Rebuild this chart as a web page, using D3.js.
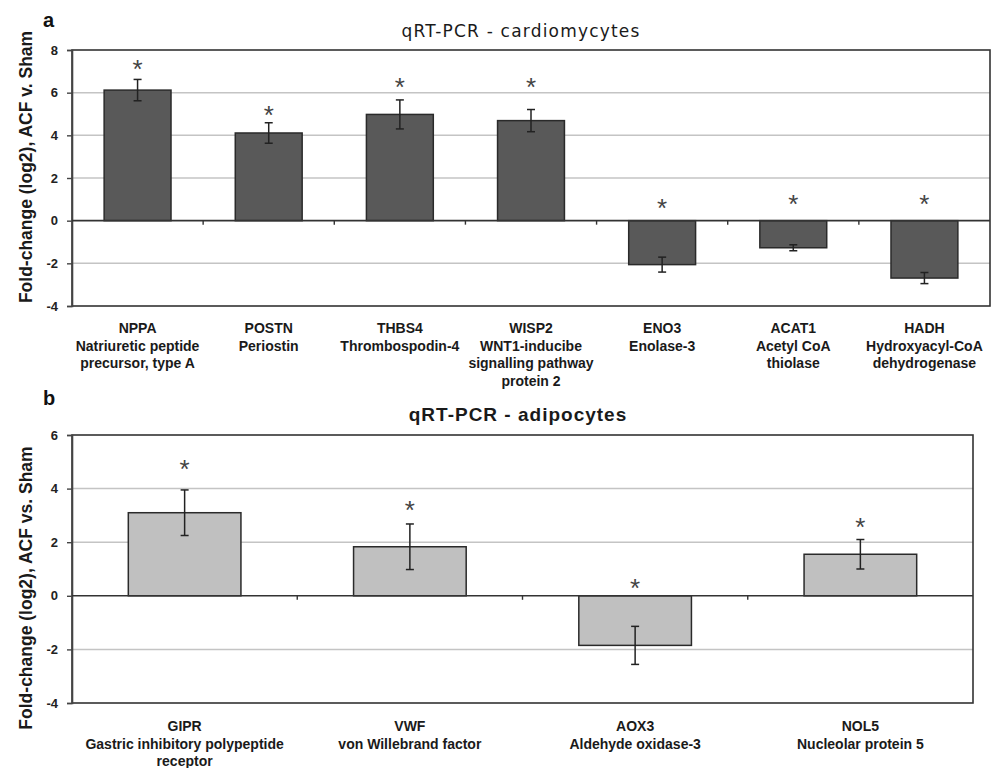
<!DOCTYPE html>
<html>
<head>
<meta charset="utf-8">
<script src="https://cdn.jsdelivr.net/npm/d3@7"></script>
<style>
  html, body { margin: 0; padding: 0; background: #fff; }
  svg { display: block; }
</style>
</head>
<body>
<div id="chart"></div>
<script>
// ---------- Panel a: cardiomycytes ----------
const catsA = ["NPPA", "POSTN", "THBS4", "WISP2", "ENO3", "ACAT1", "HADH"];
const labelsA = [
  ["NPPA", "Natriuretic peptide", "precursor, type A"],
  ["POSTN", "Periostin"],
  ["THBS4", "Thrombospodin-4"],
  ["WISP2", "WNT1-inducibe", "signalling pathway", "protein 2"],
  ["ENO3", "Enolase-3"],
  ["ACAT1", "Acetyl CoA", "thiolase"],
  ["HADH", "Hydroxyacyl-CoA", "dehydrogenase"]
];
const valuesA = [6.12, 4.11, 4.98, 4.69, -2.06, -1.27, -2.69];
const errorsA = [0.5, 0.48, 0.68, 0.52, 0.35, 0.14, 0.26];
const starsA = [7.4, 5.24, 6.55, 6.55, 0.89, 1.06, 1.06];
const ticksA = [-4, -2, 0, 2, 4, 6, 8];

// ---------- Panel b: adipocytes ----------
const catsB = ["GIPR", "VWF", "AOX3", "NOL5"];
const labelsB = [
  ["GIPR", "Gastric inhibitory  polypeptide", "receptor"],
  ["VWF", "von Willebrand factor"],
  ["AOX3", "Aldehyde oxidase-3"],
  ["NOL5", "Nucleolar protein 5"]
];
const valuesB = [3.1, 1.83, -1.85, 1.55];
const errorsB = [0.85, 0.85, 0.71, 0.55];
const starsB = [4.97, 3.43, 0.53, 2.8];
const ticksB = [-4, -2, 0, 2, 4, 6];

const W = 993, H = 768;
const svg = d3.select("#chart").append("svg").attr("width", W).attr("height", H);
const FONT = "'Liberation Sans', Arial, sans-serif";

function drawPanel(o) {
  const g = svg.append("g");
  const x = d3.scaleBand().domain(o.cats).range([o.left, o.right]).paddingInner(0).paddingOuter(0);
  const y = d3.scaleLinear().domain([o.ticks[0], o.ticks[o.ticks.length - 1]]).range([o.bottom, o.top]);

  // gridlines
  g.selectAll("line.grid").data(o.ticks.filter(t => t !== 0 && t !== o.ticks[0] && t !== o.ticks[o.ticks.length - 1]))
    .enter().append("line")
    .attr("x1", o.left).attr("x2", o.right)
    .attr("y1", d => y(d)).attr("y2", d => y(d))
    .attr("stroke", "#c4c4c4").attr("stroke-width", 1.5);

  // plot border
  g.append("rect").attr("x", o.left).attr("y", o.top)
    .attr("width", o.right - o.left).attr("height", o.bottom - o.top)
    .attr("fill", "none").attr("stroke", "#333").attr("stroke-width", 1.6);

  // y axis (line + ticks via d3.axisLeft, labels drawn separately)
  const yAxis = d3.axisLeft(y).tickValues(o.ticks).tickSize(5).tickFormat("");
  const ya = g.append("g").attr("transform", `translate(${o.left},0)`).call(yAxis);
  ya.select(".domain").attr("stroke", "#444").attr("stroke-width", 1.6);
  ya.selectAll(".tick line").attr("stroke", "#444").attr("stroke-width", 1.4);
  g.selectAll("text.ylab").data(o.ticks).enter().append("text")
    .attr("x", o.left - 14).attr("y", d => y(d)).attr("dy", "0.36em")
    .attr("text-anchor", "end").attr("font-family", FONT).attr("font-weight", "bold")
    .attr("font-size", 13).attr("fill", "#222").text(d => d3.format("d")(d).replace("\u2212", "-"));

  // bars
  const bw = x.bandwidth() * o.barFrac;
  g.selectAll("rect.bar").data(o.values).enter().append("rect")
    .attr("x", (d, i) => x(o.cats[i]) + (x.bandwidth() - bw) / 2)
    .attr("y", d => y(Math.max(0, d)))
    .attr("width", bw)
    .attr("height", d => Math.abs(y(d) - y(0)))
    .attr("fill", o.fill).attr("stroke", "#2a2a2a").attr("stroke-width", 1.5);

  // zero line
  g.append("line").attr("x1", o.left).attr("x2", o.right)
    .attr("y1", y(0)).attr("y2", y(0)).attr("stroke", "#333").attr("stroke-width", 1.6);
  g.selectAll("line.ctick").data(o.cats.slice(1)).enter().append("line")
    .attr("x1", d => x(d)).attr("x2", d => x(d))
    .attr("y1", y(0)).attr("y2", y(0) + 4)
    .attr("stroke", "#333").attr("stroke-width", 1.4);

  // error bars + asterisks
  const cap = 4;
  o.values.forEach((v, i) => {
    const cx = x(o.cats[i]) + x.bandwidth() / 2;
    const e = o.errors[i];
    const eg = g.append("g").attr("stroke", "#222").attr("stroke-width", 1.5);
    eg.append("line").attr("x1", cx).attr("x2", cx).attr("y1", y(v + e)).attr("y2", y(v - e));
    eg.append("line").attr("x1", cx - cap).attr("x2", cx + cap).attr("y1", y(v + e)).attr("y2", y(v + e));
    eg.append("line").attr("x1", cx - cap).attr("x2", cx + cap).attr("y1", y(v - e)).attr("y2", y(v - e));
    g.append("text").attr("x", cx).attr("y", y(o.stars[i]) + 15)
      .attr("text-anchor", "middle").attr("font-family", FONT)
      .attr("font-size", 26).attr("fill", "#444").text("*");
  });

  // category labels
  o.labels.forEach((lines, i) => {
    const cx = x(o.cats[i]) + x.bandwidth() / 2;
    const t = g.append("text").attr("text-anchor", "middle")
      .attr("font-family", FONT).attr("font-weight", "bold")
      .attr("font-size", 14).attr("fill", "#1a1a1a");
    lines.forEach((ln, j) => {
      t.append("tspan").attr("x", cx).attr("y", o.labelY + j * o.lineH).text(ln);
    });
  });

  // title
  g.append("text").attr("x", o.titleX).attr("y", o.titleY)
    .attr("text-anchor", "middle").attr("font-family", o.titleFont)
    .attr("font-weight", o.titleWeight).attr("font-size", o.titleSize)
    .attr("letter-spacing", o.titleSpacing).attr("fill", "#1a1a1a")
    .text(o.title);

  // panel letter
  g.append("text").attr("x", 43).attr("y", o.letterY)
    .attr("font-family", FONT).attr("font-weight", "bold")
    .attr("font-size", 20).attr("fill", "#111").text(o.letter);

  // y axis title
  g.append("text")
    .attr("transform", `translate(32,${o.yTitleC}) rotate(-90)`)
    .attr("text-anchor", "middle").attr("font-family", FONT)
    .attr("font-weight", "bold").attr("font-size", 17.5).attr("fill", "#1a1a1a")
    .text(o.yTitle);
}

drawPanel({
  cats: catsA, labels: labelsA, values: valuesA, errors: errorsA, stars: starsA, ticks: ticksA,
  left: 72, right: 990, top: 50, bottom: 306, barFrac: 0.51, fill: "#595959",
  labelY: 333, lineH: 17.5,
  title: "qRT-PCR - cardiomycytes", titleX: 521, titleY: 37, titleWeight: "normal",
  titleFont: "'DejaVu Sans', Verdana, sans-serif", titleSize: 17, titleSpacing: 1.2,
  letter: "a", letterY: 27,
  yTitle: "Fold-change (log2), ACF v. Sham", yTitleC: 167
});

drawPanel({
  cats: catsB, labels: labelsB, values: valuesB, errors: errorsB, stars: starsB, ticks: ticksB,
  left: 72, right: 973, top: 435, bottom: 703, barFrac: 0.5, fill: "#c0c0c0",
  labelY: 731, lineH: 17.5,
  title: "qRT-PCR - adipocytes", titleX: 518, titleY: 421, titleWeight: "bold",
  titleFont: FONT, titleSize: 19, titleSpacing: 1.0,
  letter: "b", letterY: 405,
  yTitle: "Fold-change (log2), ACF vs. Sham", yTitleC: 588
});
</script>
</body>
</html>
